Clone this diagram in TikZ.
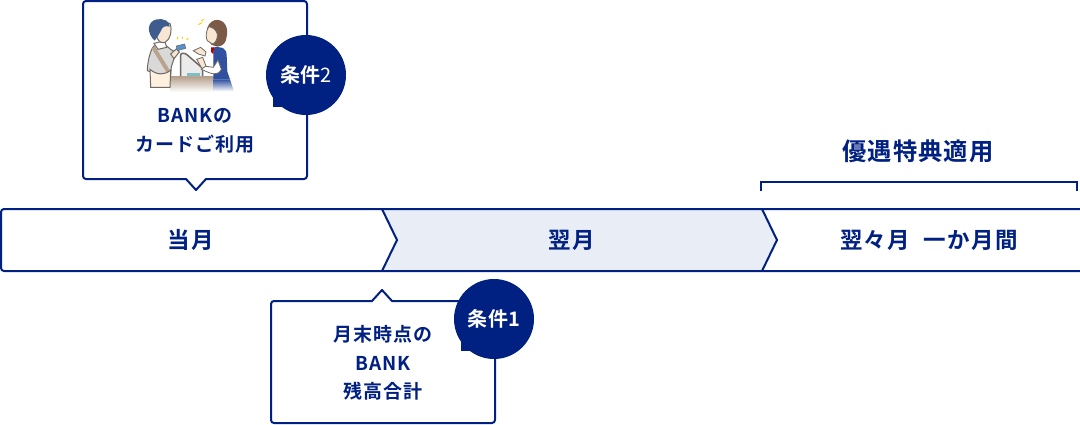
\documentclass[tikz,border=0pt]{standalone}
\usepackage{fontspec}
\setmainfont{Noto Sans CJK JP}[BoldFont=* Bold]
\usetikzlibrary{positioning}
\definecolor{bknavy}{HTML}{002082}
\definecolor{bkpale}{HTML}{E9EDF6}
\definecolor{bkskin}{HTML}{F8E6D2}
\definecolor{bkline}{HTML}{6E6A64}
\definecolor{bkvest}{HTML}{2F519F}
\definecolor{bkhair}{HTML}{7B5A48}
\definecolor{bkcap}{HTML}{3F5C8E}
\tikzstyle{band} = [draw=bknavy, line width=2pt]
\tikzstyle{callout} = [draw=bknavy, fill=white, line width=2pt, line join=round]
\tikzstyle{label} = [text=bknavy, font=\bfseries\addfontfeature{LetterSpace=6}\fontsize{19}{28.5}\selectfont, align=center, inner sep=0pt]
\tikzstyle{bandlabel} = [text=bknavy, font=\bfseries\addfontfeature{LetterSpace=6}\fontsize{22.5}{26}\selectfont, inner sep=0pt]
\tikzstyle{badge} = [circle, fill=bknavy, minimum size=80pt, inner sep=0pt, text=white, font=\bfseries\addfontfeature{LetterSpace=4}\fontsize{20}{22}\selectfont]
\begin{document}
\begin{tikzpicture}[x=1pt,y=-1pt]
  \useasboundingbox (0,0) rectangle (1080,424);
  % timeline
  \fill[bkpale] (382,209) -- (762,209) -- (777,240) -- (762,271) -- (382,271) -- (397,240) -- cycle;
  \draw[band] (1080,209) -- (382,209) [rounded corners=3pt] -- (1,209) -- (1,271) [sharp corners] -- (1080,271);
  \draw[band] (382,209) -- (397,240) -- (382,271);
  \draw[band] (762,209) -- (777,240) -- (762,271);
  \draw (191,240)node[bandlabel](thismonth){当月};
  \draw (572,240)node[bandlabel](nextmonth){翌月};
  \draw (929,240)node[bandlabel](aftermonth){翌々月\hspace{0.6em}一か月間};
  % bracket
  \draw[bknavy, line width=2pt] (761,191) -- (761,182) -- (1077,182) -- (1077,191);
  \draw (918,151)node[bandlabel, font=\bfseries\addfontfeature{LetterSpace=4}\fontsize{24.3}{26}\selectfont](benefit){優遇特典適用};
  % upper box
  \draw[callout] (196,1) [rounded corners=3pt] -- (307,1) -- (307,179) [sharp corners] -- (206,179) -- (196,190) -- (186,179) [rounded corners=3pt] -- (83,179) -- (83,1) -- cycle;
  \draw (195,131)node[label](cardlabel){BANKの\\カードご利用};
  % people
  \begin{scope}[shift={(130,10)},scale=1/3]
    % counter
    \shade[top color=black!40!brown!55, bottom color=white] (120,198) rectangle (252,246);
    \fill[black!8] (152,198) -- (152,135) .. controls (152,128) and (165,128) .. (172,135) -- (218,175) -- (218,198) -- cycle;
    \draw[bkline, line width=1.5pt] (152,198) -- (152,135) .. controls (152,128) and (165,128) .. (172,135) -- (218,175) -- (218,198);
    \fill[teal!50] (170,188) rectangle (210,198);
    % customer
    \fill[black!15, draw=bkline, line width=1pt] (72,108) .. controls (60,120) and (52,160) .. (52,182) -- (70,188) -- (122,198) -- (124,170) -- (138,128) -- (122,118) -- (100,100) -- cycle;
    \fill[white, draw=bkline, line width=1pt] (72,100) -- (104,92) -- (110,112) -- (84,118) -- cycle;
    \fill[bkskin, draw=bkline, line width=1pt] (72,40) .. controls (76,85) and (88,102) .. (104,98) .. controls (120,90) and (128,62) .. (120,40) -- cycle;
    \fill[bkcap] (74,92) .. controls (50,70) and (50,35) .. (80,28) .. controls (100,24) and (122,34) .. (119,50) .. controls (106,46) and (96,50) .. (92,64) -- (84,78) -- cycle;
    \draw[black!60!orange!45, line width=4pt] (70,112) -- (115,185);
    \fill[orange!12, draw=bkline, line width=1pt] (60,178) .. controls (80,196) and (105,196) .. (122,180) -- (120,232) -- (62,232) -- cycle;
    \fill[bkskin, draw=bkline, line width=1pt] (122,132) -- (140,116) -- (148,126) -- (132,146) -- cycle;
    \fill[cyan!55!blue!70, draw=bkline, line width=.6pt] (139,108) -- (164,102) -- (167,115) -- (142,122) -- cycle;
    % clerk
    \fill[bkvest] (250,112) .. controls (275,110) and (288,112) .. (290,135) -- (292,185) -- (300,208) -- (250,208) -- cycle;
    \shade[top color=bkvest, bottom color=white] (250,208) -- (300,208) -- (312,244) -- (250,244) -- cycle;
    \fill[white, draw=bkline, line width=.8pt] (222,168) -- (250,172) -- (264,150) -- (274,178) .. controls (262,200) and (245,192) .. (214,178) -- cycle;
    \fill[red!70!black] (243,112) -- (252,112) -- (250,132) -- (243,126) -- cycle;
    \fill[bkskin, draw=bkline, line width=.8pt] (190,122) -- (212,112) -- (228,126) -- (225,138) -- (205,132) -- cycle;
    \fill[bkskin, draw=bkline, line width=.8pt] (200,148) -- (218,142) -- (228,168) -- (216,176) -- cycle;
    \fill[bkhair] (244,104) .. controls (226,80) and (222,42) .. (255,30) .. controls (285,26) and (296,55) .. (290,80) .. controls (288,98) and (280,108) .. (262,110) -- cycle;
    \fill[bkskin, draw=bkline, line width=.8pt] (236,50) .. controls (226,68) and (228,85) .. (232,92) -- (247,102) .. controls (256,100) and (263,88) .. (262,72) .. controls (258,60) and (250,52) .. (236,50) -- cycle;
    \draw[yellow!70!orange, line width=1pt] (205,44) -- (216,38) (214,32) -- (222,28) (141,88) -- (144,80) (156,86) -- (158,80) (170,90) -- (175,84);
  \end{scope}
  % badge of upper box
  \fill[bknavy] (273,75) rectangle (306,107);
  \draw (306,75)node[badge](cond2){条件{\mdseries 2}};
  % lower box
  \draw[callout] (382,290) -- (392,301) [rounded corners=3pt] -- (495,301) -- (495,423) -- (271,423) -- (271,301) [sharp corners] -- (372,301) -- cycle;
  \draw (383,363)node[label](banklabel){月末時点の\\BANK\\残高合計};
  % badge of lower box
  \fill[bknavy] (461,319) rectangle (494,351);
  \draw (494,319)node[badge](cond1){条件1};
\end{tikzpicture}
\end{document}
